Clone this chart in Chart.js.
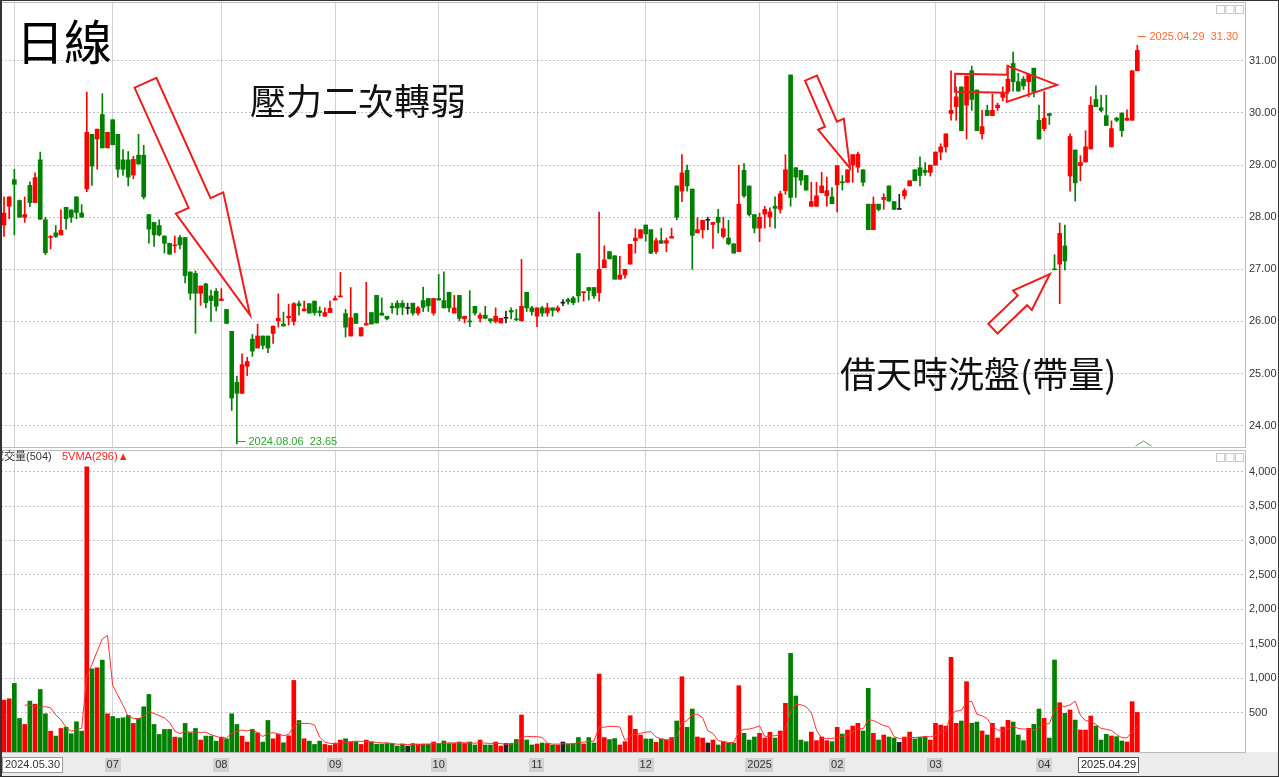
<!DOCTYPE html>
<html>
<head>
<meta charset="utf-8">
<script src="https://cdn.jsdelivr.net/npm/chart.js@4.4.1/dist/chart.umd.min.js"></script>
<style>
  html, body { margin: 0; padding: 0; background: #fff; }
  #wrap { position: relative; width: 1279px; height: 777px; overflow: hidden; background: #fff; }
  #wrap canvas { position: absolute; left: 0; }
  #price { top: 0; }
  #volume { top: 449px; }
  #frame { position: absolute; left: 0; top: 0; width: 1276px; height: 775px; border: 1px solid #333; border-left-width: 2px; pointer-events: none; }
</style>
</head>
<body>
<div id="wrap">
  <canvas id="price" width="1279" height="449"></canvas>
  <canvas id="volume" width="1279" height="328"></canvas>
  <div id="frame"></div>
</div>
<script>
// trading days per month, 2024.05 .. 2025.04
const tradingDays = [2, 19, 21, 22, 20, 19, 21, 22, 15, 19, 21, 19];
const monthTickLabels = ["", "", "07", "08", "09", "10", "11", "12", "2025", "02", "03", "04"];
const firstDate = "2024.05.30";
const lastDate = "2025.04.29";
const lowDate = "2024.08.06";

const priceTicks = [24, 25, 26, 27, 28, 29, 30, 31];
const volumeTicks = [500, 1000, 1500, 2000, 2500, 3000, 3500, 4000];

const opens = [
  27.85, 28.21, 28.72, 28.32, 28.00, 28.61, 28.28, 29.10, 27.95, 27.61,
  27.70, 27.66, 28.19, 28.14, 28.39, 28.08, 28.54, 29.59, 29.50, 29.97,
  29.33, 29.87, 29.59, 29.10, 29.10, 28.81, 29.19, 29.19, 28.05, 27.90,
  27.84, 27.64, 27.50, 27.45, 27.61, 27.61, 26.95, 26.92, 26.54, 26.72,
  26.49, 26.58, 26.40, 26.23, 25.81, 24.83, 24.62, 25.14, 25.66, 25.49,
  25.72, 25.72, 25.77, 26.01, 25.95, 26.07, 26.00, 26.34, 26.20, 26.34,
  26.39, 26.20, 26.10, 26.17, 26.41, 26.47, 26.15, 25.72, 26.15, 25.72,
  25.93, 26.17, 26.50, 26.16, 26.10, 26.29, 26.35, 26.35, 26.25, 26.35,
  26.16, 26.40, 26.44, 26.16, 26.44, 26.40, 26.56, 26.16, 26.50, 26.05,
  26.01, 26.29, 26.06, 26.12, 26.05, 26.00, 25.97, 26.06, 26.21, 26.05,
  26.01, 26.56, 26.26, 26.10, 26.26, 26.16, 26.26, 26.21, 26.35, 26.42,
  26.45, 27.30, 26.55, 26.65, 26.65, 26.55, 27.03, 27.34, 27.26, 26.81,
  26.89, 27.10, 27.55, 27.60, 27.85, 27.76, 27.34, 27.55, 27.50, 27.60,
  28.60, 28.50, 28.90, 28.54, 27.70, 27.76, 27.94, 27.86, 28.00, 27.63,
  27.60, 27.49, 27.34, 28.90, 28.60, 28.05, 27.79, 28.06, 28.00, 28.21,
  28.15, 28.51, 30.73, 28.95, 28.90, 28.80, 28.21, 28.21, 28.47, 28.41,
  28.39, 28.62, 28.68, 28.67, 29.00, 28.96, 28.91, 28.25, 27.76, 28.25,
  28.34, 28.60, 28.30, 28.15, 28.41, 28.60, 28.91, 28.95, 28.90, 28.86,
  29.00, 29.25, 29.35, 29.99, 30.12, 30.50, 30.15, 30.81, 30.44, 29.60,
  30.05, 29.95, 30.10, 30.30, 30.41, 30.95, 30.60, 30.65, 30.60, 30.86,
  29.86, 29.70, 29.99, 27.00, 27.10, 27.45, 28.79, 29.29, 28.99, 29.06,
  29.31, 30.26, 30.10, 29.95, 29.35, 29.90, 30.00, 29.86, 29.86, 30.81
];
const highs = [
  28.39, 28.39, 28.92, 28.33, 28.39, 28.68, 28.85, 29.25, 28.00, 27.65,
  27.84, 28.14, 28.19, 28.14, 28.39, 28.24, 30.40, 29.59, 29.69, 30.37,
  29.63, 29.87, 29.59, 29.30, 29.26, 29.17, 29.59, 29.38, 28.05, 27.90,
  27.95, 27.64, 27.50, 27.64, 27.65, 27.61, 26.95, 26.97, 26.68, 26.73,
  26.60, 26.63, 26.63, 26.23, 25.81, 24.95, 25.38, 25.31, 25.75, 25.95,
  25.72, 25.72, 25.91, 26.53, 26.18, 26.33, 26.36, 26.39, 26.39, 26.34,
  26.39, 26.28, 26.26, 26.39, 26.49, 26.94, 26.23, 26.65, 26.15, 25.88,
  26.75, 26.17, 26.50, 26.45, 26.10, 26.35, 26.40, 26.40, 26.35, 26.35,
  26.29, 26.66, 26.44, 26.44, 26.90, 26.95, 26.56, 26.50, 26.50, 26.10,
  26.59, 26.29, 26.16, 26.29, 26.05, 26.26, 26.06, 26.20, 26.26, 26.23,
  27.19, 26.56, 26.29, 26.26, 26.29, 26.35, 26.26, 26.30, 26.42, 26.45,
  26.48, 27.30, 26.57, 26.65, 26.65, 28.10, 27.45, 27.34, 27.26, 27.25,
  27.00, 27.48, 27.78, 27.76, 27.85, 27.76, 27.60, 27.79, 27.60, 27.79,
  28.60, 29.20, 29.00, 28.54, 27.99, 27.94, 28.00, 27.90, 28.15, 28.00,
  27.94, 27.49, 29.00, 29.03, 28.60, 28.05, 28.08, 28.21, 28.18, 28.39,
  28.50, 29.20, 30.73, 28.95, 28.90, 28.80, 28.67, 28.67, 28.86, 28.77,
  28.57, 28.99, 28.80, 28.91, 29.20, 29.25, 28.91, 28.25, 28.39, 28.25,
  28.45, 28.60, 28.30, 28.44, 28.55, 28.70, 28.91, 29.16, 29.05, 29.00,
  29.25, 29.41, 29.60, 30.81, 30.50, 30.50, 30.71, 30.90, 30.44, 30.05,
  30.15, 30.36, 30.19, 30.50, 30.92, 31.17, 30.76, 30.70, 30.74, 30.86,
  30.15, 30.41, 29.99, 27.28, 27.89, 27.85, 29.60, 29.29, 29.18, 29.66,
  30.31, 30.52, 30.34, 30.34, 29.85, 29.92, 30.00, 30.06, 30.81, 31.30
];
const lows = [
  27.63, 27.97, 27.66, 28.00, 27.90, 28.20, 28.28, 27.96, 27.28, 27.39,
  27.61, 27.66, 27.77, 27.90, 27.97, 28.00, 28.49, 28.61, 28.92, 29.33,
  29.33, 29.39, 28.77, 28.80, 28.60, 28.74, 29.02, 28.35, 27.50, 27.44,
  27.64, 27.31, 27.29, 27.32, 27.39, 26.74, 26.42, 25.77, 26.31, 26.26,
  26.00, 26.20, 26.40, 25.96, 24.29, 23.65, 24.62, 24.96, 25.33, 25.49,
  25.47, 25.40, 25.58, 25.89, 25.91, 25.93, 25.93, 26.12, 26.20, 26.16,
  26.12, 26.10, 26.10, 26.17, 26.41, 26.47, 25.70, 25.72, 25.96, 25.72,
  25.93, 25.95, 25.97, 26.12, 26.03, 26.16, 26.13, 26.13, 26.14, 26.12,
  26.12, 26.19, 26.19, 26.12, 26.41, 26.26, 26.18, 26.16, 26.01, 25.97,
  25.90, 26.12, 25.99, 26.05, 25.97, 25.97, 25.97, 25.97, 26.05, 26.01,
  26.01, 26.19, 26.12, 25.90, 26.10, 26.10, 26.10, 26.18, 26.30, 26.33,
  26.32, 26.37, 26.39, 26.41, 26.44, 26.39, 27.03, 27.20, 26.81, 26.81,
  26.83, 27.10, 27.31, 27.60, 27.54, 27.30, 27.30, 27.50, 27.34, 27.60,
  27.95, 28.30, 28.50, 27.00, 27.70, 27.60, 27.76, 27.40, 27.70, 27.60,
  27.47, 27.31, 27.34, 28.38, 28.02, 27.70, 27.53, 27.79, 27.82, 27.79,
  28.08, 28.44, 28.21, 28.38, 28.62, 28.52, 28.21, 28.21, 28.47, 28.21,
  28.26, 28.10, 28.52, 28.67, 28.67, 28.86, 28.60, 27.76, 27.76, 28.12,
  28.15, 28.31, 28.15, 28.15, 28.35, 28.60, 28.70, 28.60, 28.80, 28.79,
  29.00, 29.10, 29.25, 29.86, 29.86, 29.66, 29.50, 30.05, 29.66, 29.50,
  29.95, 29.95, 30.05, 30.23, 30.37, 30.42, 30.42, 30.45, 30.31, 30.31,
  29.50, 29.66, 29.78, 26.99, 26.34, 26.99, 28.50, 28.31, 28.70, 29.06,
  29.31, 30.12, 30.02, 29.76, 29.35, 29.83, 29.55, 29.86, 29.86, 30.81
];
const closes = [
  28.08, 28.39, 28.63, 28.00, 28.05, 28.28, 28.76, 27.96, 27.32, 27.63,
  27.63, 27.75, 27.97, 28.00, 28.09, 28.00, 29.63, 28.98, 29.69, 29.33,
  29.63, 29.39, 28.92, 28.92, 28.77, 29.11, 29.02, 28.39, 27.77, 27.66,
  27.66, 27.50, 27.29, 27.47, 27.47, 26.88, 26.54, 26.54, 26.68, 26.36,
  26.40, 26.29, 26.43, 25.96, 24.53, 24.62, 25.17, 25.23, 25.43, 25.72,
  25.54, 25.49, 25.91, 26.06, 25.91, 26.10, 26.34, 26.30, 26.24, 26.16,
  26.17, 26.17, 26.17, 26.25, 26.44, 26.49, 25.89, 26.07, 25.96, 25.88,
  25.96, 25.95, 25.97, 26.12, 26.05, 26.26, 26.26, 26.27, 26.25, 26.16,
  26.26, 26.27, 26.30, 26.44, 26.41, 26.26, 26.26, 26.26, 26.06, 26.10,
  25.99, 26.16, 26.12, 26.06, 26.01, 26.10, 26.06, 26.06, 26.18, 26.03,
  26.29, 26.26, 26.19, 26.26, 26.16, 26.26, 26.21, 26.26, 26.35, 26.38,
  26.36, 26.49, 26.57, 26.59, 26.49, 27.00, 27.18, 27.20, 26.81, 26.89,
  27.00, 27.48, 27.60, 27.76, 27.68, 27.31, 27.55, 27.50, 27.55, 27.63,
  28.00, 28.85, 28.60, 27.65, 27.76, 27.94, 27.94, 27.90, 27.90, 27.78,
  27.49, 27.31, 28.25, 28.41, 28.05, 27.79, 28.00, 28.15, 28.10, 28.17,
  28.45, 28.91, 28.38, 28.77, 28.71, 28.52, 28.30, 28.41, 28.60, 28.51,
  28.26, 28.99, 28.66, 28.91, 29.20, 29.21, 28.67, 27.76, 28.25, 28.15,
  28.38, 28.31, 28.15, 28.15, 28.51, 28.70, 28.70, 28.80, 28.86, 29.00,
  29.25, 29.35, 29.60, 30.05, 30.31, 29.66, 30.71, 30.26, 29.66, 29.74,
  29.95, 30.05, 30.15, 30.39, 30.65, 30.60, 30.42, 30.52, 30.74, 30.41,
  29.50, 29.90, 29.95, 26.99, 27.69, 27.16, 29.55, 28.66, 29.05, 29.35,
  30.15, 30.12, 30.05, 29.76, 29.70, 29.86, 29.66, 29.90, 30.81, 31.20
];
const volumes = [
  682, 702, 925, 416, 329, 668, 624, 837, 484, 232,
  160, 271, 290, 194, 368, 232, 4070, 1137, 1152, 1263,
  484, 445, 416, 426, 460, 344, 416, 586, 765, 329,
  184, 257, 257, 145, 136, 344, 208, 271, 102, 160,
  160, 87, 145, 121, 484, 329, 160, 73, 257, 208,
  73, 387, 121, 184, 63, 165, 968, 387, 121, 87,
  39, 87, 39, 24, 58, 102, 121, 77, 77, 39,
  102, 77, 42, 45, 52, 52, 16, 45, 16, 52,
  45, 45, 45, 74, 45, 89, 52, 52, 74, 52,
  74, 31, 103, 31, 31, 74, 16, 52, 52, 110,
  466, 103, 31, 45, 60, 52, 31, 31, 74, 45,
  52, 139, 45, 139, 60, 1061, 139, 110, 124, 31,
  79, 456, 258, 176, 118, 118, 69, 118, 103, 139,
  379, 1022, 287, 553, 147, 132, 60, 103, 31, 79,
  60, 60, 892, 200, 103, 147, 200, 132, 215, 132,
  234, 636, 1362, 742, 103, 79, 219, 94, 147, 94,
  79, 287, 190, 248, 306, 345, 234, 853, 200, 103,
  176, 147, 132, 69, 147, 219, 118, 147, 152, 103,
  345, 321, 306, 1304, 345, 379, 950, 345, 364, 234,
  176, 345, 132, 292, 389, 364, 176, 94, 273, 331,
  553, 418, 132, 1265, 645, 490, 540, 393, 248, 248,
  452, 306, 103, 185, 162, 152, 89, 74, 660, 504
];

const UP = "#ff0000";
const DOWN = "#008000";
const FLAT = "#222222";
const FONT = '"Liberation Sans", Arial, "Noto Sans CJK TC", sans-serif';
const CJK = '"Noto Sans CJK TC", "Noto Sans CJK SC", sans-serif';

const n = opens.length;
const colors = opens.map((o, i) => (closes[i] > o ? UP : closes[i] < o ? DOWN : FLAT));

const monthStart = [];
let acc = 0;
tradingDays.forEach((d) => { monthStart.push(acc); acc += d; });
const gridIdx = monthStart.slice(1);

const ma5 = [];
for (let i = 4; i < n; i++) {
  let s = 0;
  for (let k = i - 4; k <= i; k++) s += volumes[k];
  ma5.push({ x: i, y: s / 5 });
}

function xScale() {
  return {
    type: "linear",
    min: -0.58,
    max: 240,
    offset: false,
    afterBuildTicks: (s) => { s.ticks = gridIdx.map((v) => ({ value: v })); },
    afterFit: (s) => { s.height = 0; s.paddingLeft = 0; s.paddingRight = 0; },
    ticks: { display: false },
    grid: { color: "#d2d2d2", lineWidth: 1, drawTicks: false, offset: false },
    border: { display: false },
  };
}

function yFit(s) {
  s.width = 33;
  s.paddingTop = 0;
  s.paddingBottom = 0;
}

function panelBox(ctx, a) {
  ctx.strokeStyle = "#bcbcbc";
  ctx.lineWidth = 1;
  ctx.strokeRect(Math.round(a.left) + 0.5, Math.round(a.top) + 0.5, Math.round(a.right - a.left) - 1, Math.round(a.bottom - a.top));
  // the three little window buttons top right
  ctx.strokeStyle = "#c8c8c8";
  for (let k = 0; k < 3; k++) {
    const bx = Math.round(a.right) - 30 + k * 9.5;
    ctx.strokeRect(bx + 0.5, a.top + 3.5, 8, 8);
  }
}

// hollow arrow, tail and tip in data units, widths in px
function hollowArrow(ctx, x, y, arr) {
  const x1 = x.getPixelForValue(arr.tail[0]), y1 = y.getPixelForValue(arr.tail[1]);
  const x2 = x.getPixelForValue(arr.tip[0]), y2 = y.getPixelForValue(arr.tip[1]);
  const len = Math.hypot(x2 - x1, y2 - y1);
  const ux = (x2 - x1) / len, uy = (y2 - y1) / len;
  const nx = -uy, ny = ux;
  const bx = x2 - ux * arr.head, by = y2 - uy * arr.head;
  ctx.beginPath();
  ctx.moveTo(x1 + nx * arr.shaft, y1 + ny * arr.shaft);
  ctx.lineTo(bx + nx * arr.shaft, by + ny * arr.shaft);
  ctx.lineTo(bx + nx * arr.wing, by + ny * arr.wing);
  ctx.lineTo(x2, y2);
  ctx.lineTo(bx - nx * arr.wing, by - ny * arr.wing);
  ctx.lineTo(bx - nx * arr.shaft, by - ny * arr.shaft);
  ctx.lineTo(x1 - nx * arr.shaft, y1 - ny * arr.shaft);
  ctx.closePath();
  ctx.stroke();
}

const arrows = [
  { tail: [27.34, 30.58], tip: [47.54, 26.12], shaft: 12, wing: 26, head: 123 },
  { tail: [155.94, 30.67], tip: [163.48, 28.94], shaft: 6.5, wing: 14, head: 48 },
  { tail: [183.77, 30.58], tip: [203.48, 30.54], shaft: 9, wing: 18, head: 50 },
  { tail: [191.1, 25.86], tip: [202.1, 26.91], shaft: 6.7, wing: 13.5, head: 38 },
];
const notes = [
  { text: "壓力二次轉弱", at: [47.54, 30.22] },
  { text: "借天時洗盤(帶量)", at: [161.55, 24.98] },
];

const priceDeco = {
  id: "priceDeco",
  afterDatasetsDraw(chart) {
    const { ctx, chartArea: a, scales: { x, y } } = chart;
    ctx.save();
    panelBox(ctx, a);

    ctx.fillStyle = "#000";
    ctx.textBaseline = "middle";
    ctx.textAlign = "left";
    ctx.font = "48px " + CJK;
    ctx.fillText("日線", a.left + 15, a.top + 40);

    ctx.font = "36px " + CJK;
    ctx.fillStyle = "#111";
    notes.forEach((t) => ctx.fillText(t.text, x.getPixelForValue(t.at[0]), y.getPixelForValue(t.at[1])));

    ctx.strokeStyle = "#f01c1c";
    ctx.lineWidth = 2;
    ctx.lineJoin = "miter";
    arrows.forEach((ar) => hollowArrow(ctx, x, y, ar));

    // lowest low / highest high labels
    let iLow = 0, iHigh = 0;
    for (let i = 1; i < n; i++) {
      if (lows[i] < lows[iLow]) iLow = i;
      if (highs[i] > highs[iHigh]) iHigh = i;
    }
    ctx.font = "11px " + FONT;
    ctx.lineWidth = 1;
    let px = Math.round(x.getPixelForValue(iLow)) + 0.5;
    let py = Math.round(y.getPixelForValue(lows[iLow])) - 2.5;
    ctx.strokeStyle = "#2aa52a";
    ctx.fillStyle = "#2aa52a";
    ctx.beginPath();
    ctx.moveTo(px, py - 3);
    ctx.lineTo(px, py);
    ctx.lineTo(px + 8, py);
    ctx.stroke();
    ctx.fillText(lowDate + "  " + lows[iLow].toFixed(2), px + 11, py);

    px = Math.round(x.getPixelForValue(iHigh)) + 0.5;
    py = Math.round(y.getPixelForValue(highs[iHigh])) - 8.5;
    ctx.strokeStyle = "#ff6a2a";
    ctx.fillStyle = "#ff6a2a";
    ctx.beginPath();
    ctx.moveTo(px, py);
    ctx.lineTo(px + 8, py);
    ctx.stroke();
    ctx.fillText(lastDate + "  " + highs[iHigh].toFixed(2), px + 12, py);

    // small green marker at bottom right
    ctx.strokeStyle = "#3cbf3c";
    ctx.beginPath();
    ctx.moveTo(px - 2, a.bottom - 1);
    ctx.lineTo(px + 6, a.bottom - 6);
    ctx.lineTo(px + 14, a.bottom - 1);
    ctx.stroke();
    ctx.restore();
  },
};

const volumeDeco = {
  id: "volumeDeco",
  beforeDraw(chart) {
    const { ctx, chartArea: a, width } = chart;
    ctx.save();
    ctx.fillStyle = "#ececec";
    ctx.fillRect(0, a.bottom, width, chart.height - a.bottom);
    ctx.restore();
  },
  afterDatasetsDraw(chart) {
    const { ctx, chartArea: a, scales: { x } } = chart;
    ctx.save();
    panelBox(ctx, a);

    ctx.font = "11px " + FONT;
    ctx.textBaseline = "middle";
    ctx.textAlign = "left";
    const vLast = volumes[n - 1];
    const mLast = Math.round(ma5[ma5.length - 1].y);
    ctx.fillStyle = "#333";
    ctx.fillText("成交量(" + vLast + ")", a.left - 8, a.top + 7);
    ctx.fillStyle = "#ff2020";
    ctx.fillText("5VMA(" + mLast + ")▲", a.left + 61, a.top + 7);

    // x axis labels
    const ly = a.bottom + 13;
    ctx.textAlign = "center";
    monthStart.forEach((s, k) => {
      const t = monthTickLabels[k];
      if (!t) return;
      const px = x.getPixelForValue(s);
      const w = ctx.measureText(t).width;
      ctx.fillStyle = "#d2d2d2";
      ctx.fillRect(Math.round(px - w / 2 - 2), ly - 7, Math.round(w + 4), 14);
      ctx.fillStyle = "#333";
      ctx.fillText(t, px, ly);
    });

    ctx.textAlign = "left";
    let w = ctx.measureText(firstDate).width;
    ctx.fillStyle = "#fff";
    ctx.fillRect(a.left + 1, ly - 8, w + 6, 16);
    ctx.strokeStyle = "#9a9a9a";
    ctx.strokeRect(a.left + 1.5, ly - 7.5, w + 5, 15);
    ctx.fillStyle = "#333";
    ctx.fillText(firstDate, a.left + 4, ly);

    w = ctx.measureText(lastDate).width;
    const rx = Math.round(x.getPixelForValue(n - 1)) + 2;
    ctx.fillStyle = "#fff";
    ctx.fillRect(rx - w - 6, ly - 8, w + 6, 16);
    ctx.strokeStyle = "#555";
    ctx.strokeRect(rx - w - 5.5, ly - 7.5, w + 5, 15);
    ctx.fillStyle = "#222";
    ctx.fillText(lastDate, rx - w - 3, ly);
    ctx.restore();
  },
};

const common = {
  responsive: false,
  animation: false,
  devicePixelRatio: 1,
  events: [],
  plugins: { legend: { display: false }, tooltip: { enabled: false } },
};

new Chart(document.getElementById("price"), {
  type: "bar",
  data: {
    datasets: [
      {
        label: "body",
        data: opens.map((o, i) => ({ x: i, y: [o, closes[i]] })),
        backgroundColor: colors,
        barThickness: 4,
        minBarLength: 1,
        grouped: false,
        order: 0,
      },
      {
        label: "wick",
        data: highs.map((h, i) => ({ x: i, y: [lows[i], h] })),
        backgroundColor: colors,
        barThickness: 1,
        grouped: false,
        order: 1,
      },
    ],
  },
  options: {
    ...common,
    layout: { padding: { left: 1, right: 0, top: 2, bottom: 2 } },
    scales: {
      x: xScale(),
      y: {
        position: "right",
        min: 23.59,
        max: 32.13,
        afterBuildTicks: (s) => { s.ticks = priceTicks.map((v) => ({ value: v })); },
        afterFit: yFit,
        ticks: { padding: 3, color: "#333", font: { family: FONT, size: 11 }, callback: (v) => Number(v).toFixed(2) },
        grid: { color: "#c2c2c2", drawTicks: false },
        border: { display: false, dash: [2, 2] },
      },
    },
  },
  plugins: [priceDeco],
});

new Chart(document.getElementById("volume"), {
  type: "bar",
  data: {
    datasets: [
      {
        type: "line",
        label: "5VMA",
        data: ma5,
        borderColor: "#ff3030",
        borderWidth: 1,
        pointRadius: 0,
        tension: 0,
        order: 0,
      },
      {
        label: "成交量",
        data: volumes.map((v, i) => ({ x: i, y: v })),
        backgroundColor: colors,
        barThickness: 4,
        base: -71,
        grouped: false,
        order: 1,
      },
    ],
  },
  options: {
    ...common,
    layout: { padding: { left: 1, right: 0, top: 1, bottom: 25 } },
    scales: {
      x: xScale(),
      y: {
        position: "right",
        min: -71,
        max: 4315,
        afterBuildTicks: (s) => { s.ticks = volumeTicks.map((v) => ({ value: v })); },
        afterFit: yFit,
        ticks: { padding: 3, color: "#333", font: { family: FONT, size: 11 }, callback: (v) => Number(v).toLocaleString("en-US") },
        grid: { color: "#c2c2c2", drawTicks: false },
        border: { display: false, dash: [2, 2] },
      },
    },
  },
  plugins: [volumeDeco],
});
</script>
</body>
</html>
